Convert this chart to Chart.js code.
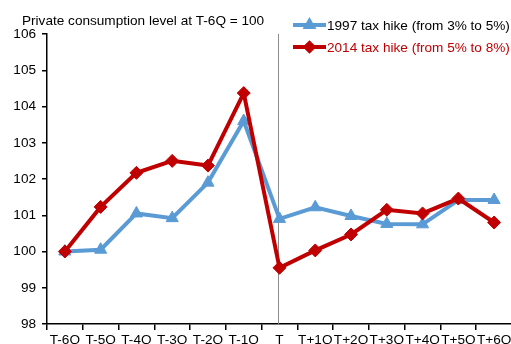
<!DOCTYPE html>
<html>
<head>
<meta charset="utf-8">
<script src="https://cdn.jsdelivr.net/npm/chart.js@4.4.1/dist/chart.umd.min.js"></script>
<style>
  html, body { margin: 0; padding: 0; background: #fff; overflow: hidden; }
  #wrap { position: relative; width: 520px; height: 350px; }
</style>
</head>
<body>
<div id="wrap"><canvas id="c" width="520" height="350"></canvas></div>
<script>
// Quarters around the consumption tax hike (T = quarter of the hike)
const quarters = ['T-6Q', 'T-5Q', 'T-4Q', 'T-3Q', 'T-2Q', 'T-1Q', 'T',
                  'T+1Q', 'T+2Q', 'T+3Q', 'T+4Q', 'T+5Q', 'T+6Q'];
// Private consumption index, T-6Q = 100
const hike1997 = [100.0, 100.05, 101.05, 100.92, 101.9, 103.6, 100.9,
                  101.22, 100.98, 100.76, 100.75, 101.42, 101.42];
const hike2014 = [100.0, 101.23, 102.17, 102.5, 102.37, 104.37, 99.55,
                  100.03, 100.47, 101.15, 101.05, 101.46, 100.8];
const yTicks = [98, 99, 100, 101, 102, 103, 104, 105, 106];

const titleText = 'Private consumption level at T-6Q = 100';
const label1997 = '1997 tax hike (from 3% to 5%)';
const label2014 = '2014 tax hike (from 5% to 8%)';

const BLUE = '#5b9bd5';
const RED = '#c00000';
const FONT = '"Liberation Sans", Arial, sans-serif';
const FONT_SIZE = 13.6;

// Title, legend and the vertical marker at the hike quarter
const decorations = {
  id: 'decorations',
  beforeDatasetsDraw(chart) {
    const { ctx, chartArea, scales } = chart;
    const x = Math.round(scales.x.getPixelForValue(quarters.indexOf('T'))) - 1.5;
    ctx.save();
    ctx.strokeStyle = '#8c8c8c';
    ctx.lineWidth = 1;
    ctx.beginPath();
    ctx.moveTo(x, chartArea.top);
    ctx.lineTo(x, chartArea.bottom);
    ctx.stroke();
    ctx.restore();
  },
  afterDraw(chart) {
    const { ctx } = chart;
    ctx.save();
    ctx.font = FONT_SIZE + 'px ' + FONT;
    ctx.textBaseline = 'alphabetic';
    ctx.fillStyle = '#000';
    ctx.fillText(titleText, 22, 25);

    const entries = [
      { text: label1997, color: BLUE, textColor: '#000', y: 25, style: 'triangle' },
      { text: label2014, color: RED, textColor: RED, y: 47, style: 'rectRot' }
    ];
    entries.forEach(e => {
      ctx.strokeStyle = e.color;
      ctx.lineWidth = 4;
      ctx.lineCap = 'butt';
      ctx.beginPath();
      ctx.moveTo(293, e.y);
      ctx.lineTo(326, e.y);
      ctx.stroke();
      Chart.helpers.drawPoint(ctx, { pointStyle: e.style, radius: 4, borderWidth: 1 }, 309.5, e.y);
      ctx.fillStyle = e.color;
      ctx.fill();
      ctx.fillStyle = e.textColor;
      ctx.fillText(e.text, 327, e.y + 5);
    });
    ctx.restore();
  }
};

new Chart(document.getElementById('c'), {
  type: 'line',
  data: {
    labels: quarters,
    datasets: [
      {
        label: label1997,
        data: hike1997,
        borderColor: BLUE,
        backgroundColor: BLUE,
        borderWidth: 4,
        pointStyle: 'triangle',
        pointRadius: 7,
        pointBorderWidth: 1,
        tension: 0,
        order: 1
      },
      {
        label: label2014,
        data: hike2014,
        borderColor: RED,
        backgroundColor: RED,
        borderWidth: 4,
        pointStyle: 'rectRot',
        pointRadius: 6.5,
        pointBorderWidth: 1,
        tension: 0,
        order: 0
      }
    ]
  },
  options: {
    responsive: false,
    animation: false,
    layout: { padding: { top: 34, right: 4, left: 0, bottom: 0 } },
    plugins: {
      legend: { display: false },
      title: { display: false },
      tooltip: { enabled: false }
    },
    scales: {
      x: {
        offset: true,
        grid: {
          offset: true,
          drawOnChartArea: false,
          drawTicks: true,
          tickLength: 6,
          color: '#000',
          lineWidth: 1.5
        },
        border: { color: '#000', width: 1.5 },
        ticks: {
          color: '#000',
          font: { size: FONT_SIZE, family: FONT },
          padding: 2,
          maxRotation: 0,
          autoSkip: false
        },
        afterFit(scale) {
          scale.height = 26;
          scale.paddingLeft = 0;
          scale.paddingRight = 0;
        }
      },
      y: {
        min: 98,
        max: 106,
        afterBuildTicks(scale) { scale.ticks = yTicks.map(v => ({ value: v })); },
        grid: {
          drawOnChartArea: false,
          drawTicks: true,
          tickLength: 5,
          color: '#000',
          lineWidth: 1.5
        },
        border: { color: '#000', width: 1.5 },
        ticks: {
          color: '#000',
          font: { size: FONT_SIZE, family: FONT },
          padding: 6
        },
        afterFit(scale) {
          scale.width = 47;
          scale.paddingTop = 0;
          scale.paddingBottom = 0;
        }
      }
    }
  },
  plugins: [decorations]
});
</script>
</body>
</html>
